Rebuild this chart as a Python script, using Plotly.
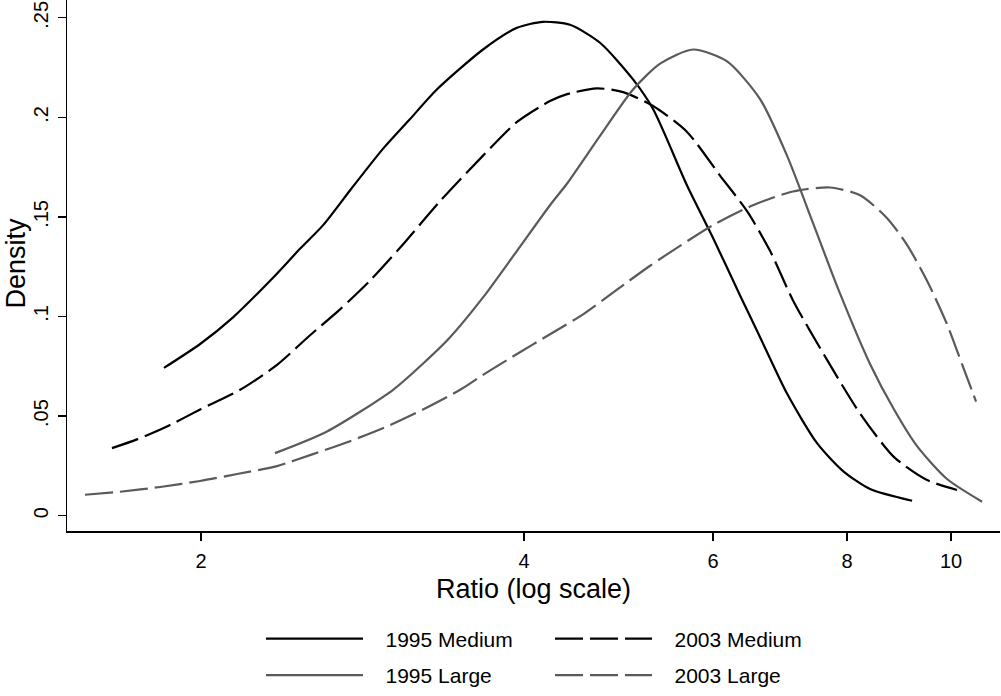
import math
import plotly.graph_objects as go

# ---- data ----
x_1995_medium = [1.847, 1.996, 2.142, 2.334, 2.473, 2.599, 2.753, 2.956, 3.132, 3.319, 3.663, 3.940,
                 4.166, 4.415, 4.708, 5.054, 5.276, 5.675, 6.001, 6.359, 6.638, 7.033, 7.501, 7.932, 8.404, 9.198]
y_1995_medium = [0.0742, 0.0862, 0.0996, 0.1195, 0.1340, 0.1459, 0.1633, 0.1843, 0.1992, 0.2141, 0.2341,
                 0.2450, 0.2480, 0.2465, 0.2375, 0.2191, 0.2042, 0.1658, 0.1394, 0.1106, 0.0896, 0.0613, 0.0364,
                 0.0224, 0.0134, 0.0075]

x_2003_medium = [1.652, 1.743, 1.859, 1.996, 2.175, 2.354, 2.527, 2.695, 2.874, 3.065, 3.340, 3.663, 3.940,
                 4.229, 4.387, 4.678, 4.947, 5.276, 5.675, 6.091, 6.455, 6.781, 7.124, 7.664, 8.227, 8.849,
                 9.498, 10.130]
y_2003_medium = [0.0339, 0.0383, 0.0448, 0.0533, 0.0632, 0.0757, 0.0906, 0.1036, 0.1180, 0.1345, 0.1579, 0.1808,
                 0.1977, 0.2082, 0.2117, 0.2146, 0.2127, 0.2057, 0.1927, 0.1708, 0.1529, 0.1330, 0.1081, 0.0782,
                 0.0513, 0.0294, 0.0179, 0.0129]

x_1995_large = [2.344, 2.621, 3.020, 3.248, 3.413, 3.663, 3.940, 4.229, 4.387, 4.708, 5.054, 5.356, 5.749,
                6.184, 6.638, 7.033, 7.437, 7.847, 8.404, 8.849, 9.297, 9.915, 10.689]
y_1995_large = [0.0314, 0.0423, 0.0632, 0.0782, 0.0896, 0.1096, 0.1330, 0.1559, 0.1668, 0.1907, 0.2140, 0.2270,
                0.2341, 0.2281, 0.2092, 0.1808, 0.1469, 0.1140, 0.0762, 0.0533, 0.0349, 0.0184, 0.0070]

x_2003_large = [1.559, 1.681, 1.832, 1.996, 2.161, 2.354, 2.543, 2.753, 2.981, 3.220, 3.487, 3.663, 3.940,
                4.229, 4.540, 4.883, 5.242, 5.590, 6.001, 6.538, 7.124, 7.713, 8.227, 8.718, 9.099, 9.498,
                9.915, 10.261, 10.552]
y_2003_large = [0.0105, 0.0120, 0.0144, 0.0174, 0.0209, 0.0249, 0.0309, 0.0374, 0.0448, 0.0533, 0.0632, 0.0707,
                0.0812, 0.0911, 0.1011, 0.1135, 0.1255, 0.1355, 0.1459, 0.1559, 0.1628, 0.1648, 0.1609, 0.1494,
                0.1360, 0.1180, 0.0961, 0.0747, 0.0573]

x_ticks = [2, 4, 6, 8, 10]
x_tick_labels = ["2", "4", "6", "8", "10"]
y_ticks = [0, 0.05, 0.1, 0.15, 0.2, 0.25]
y_tick_labels = ["0", ".05", ".1", ".15", ".2", ".25"]

FONT = "Liberation Sans, Arial, Helvetica, sans-serif"
BLACK = "#000000"
GRAY = "#5a5a5a"
DASH = "28px,7px"
PAD = "\u00a0\u00a0\u00a0"

fig = go.Figure()
series = [
    ("1995 Medium", x_1995_medium, y_1995_medium, BLACK, "solid", "legend"),
    ("2003 Medium", x_2003_medium, y_2003_medium, BLACK, DASH, "legend"),
    ("1995 Large", x_1995_large, y_1995_large, GRAY, "solid", "legend2"),
    ("2003 Large", x_2003_large, y_2003_large, GRAY, DASH, "legend2"),
]
for name, xs, ys, col, dash, leg in series:
    fig.add_trace(go.Scatter(
        x=xs, y=ys, mode="lines", name=PAD + name, legend=leg,
        line=dict(color=col, width=2.2, dash=dash, shape="spline", smoothing=0.7),
        hoverinfo="skip",
    ))

W, H = 1001, 696
L, R, T, B = 67, 1, 0, 160
pw, ph = W - L - R, H - T - B

legend_common = dict(
    orientation="h", xanchor="left", yanchor="middle",
    entrywidth=177, entrywidthmode="pixels", itemwidth=97,
    font=dict(family=FONT, size=21, color="#000"),
    bgcolor="rgba(0,0,0,0)", traceorder="normal",
    itemclick=False, itemdoubleclick=False,
)
lx = (261 - L) / pw

fig.update_layout(
    width=W, height=H,
    margin=dict(l=L, r=R, t=T, b=B, pad=0),
    paper_bgcolor="white", plot_bgcolor="white",
    font=dict(family=FONT, color="#000"),
    showlegend=True,
    legend=dict(legend_common, x=lx, y=(ph - 645) / ph),
    legend2=dict(legend_common, x=lx, y=(ph - 682) / ph),
    xaxis=dict(
        type="log",
        range=[math.log10(1.500), math.log10(11.108)],
        tickvals=x_ticks, ticktext=x_tick_labels,
        showline=True, linecolor="#000", linewidth=1.5,
        ticks="outside", ticklen=8, tickwidth=1.3, tickcolor="#000",
        showgrid=False, zeroline=False, mirror=False, automargin=False,
        tickfont=dict(family=FONT, size=20, color="#000"),
        ticklabelstandoff=3, ticklabeloverflow="allow",
    ),
    yaxis=dict(
        range=[-0.00771, 0.25896],
        tickvals=y_ticks, ticktext=y_tick_labels,
        tickangle=-90,
        showline=True, linecolor="#000", linewidth=1.5,
        ticks="outside", ticklen=8, tickwidth=1.3, tickcolor="#000",
        showgrid=False, zeroline=False, mirror=False, automargin=False,
        tickfont=dict(family=FONT, size=20, color="#000"),
        ticklabelstandoff=2, ticklabeloverflow="allow",
    ),
    annotations=[
        dict(text="Ratio (log scale)", xref="paper", yref="paper",
             x=(533 - L) / pw, y=(ph - 595) / ph, xanchor="center", yanchor="middle",
             showarrow=False, font=dict(family=FONT, size=27, color="#000")),
        dict(text="Density", xref="paper", yref="paper", textangle=-90,
             x=(16 - L) / pw, y=(ph - 266) / ph, xanchor="center", yanchor="middle",
             showarrow=False, font=dict(family=FONT, size=27, color="#000")),
    ],
)

# remove the default 8px page margin so the 1001x696 figure fills the window exactly
fig.write_html(
    "out.html",
    config={"displayModeBar": False, "staticPlot": True},
    post_script="document.body.style.margin='0';document.body.style.overflow='hidden';",
)
